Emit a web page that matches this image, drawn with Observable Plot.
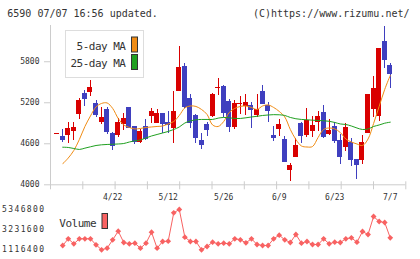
<!DOCTYPE html>
<html>
<head>
<meta charset="utf-8">
<script src="https://cdn.jsdelivr.net/npm/d3@7"></script>
<script src="https://cdn.jsdelivr.net/npm/@observablehq/plot@0.6"></script>
<style>
  html, body { margin: 0; padding: 0; background: #fff; }
  #chart { position: relative; width: 420px; height: 259px; overflow: hidden; }
  #chart svg { position: absolute; left: 0; }
</style>
</head>
<body>
<div id="chart"></div>
<script>
// Daily candles for code 6590, oldest first
const open = [4750, 4707, 4726, 4784, 5024, 5340, 5355, 5194, 4916, 5102,
  4755, 4721, 4882, 5136, 4853, 4623, 4853, 5004, 4901, 5039,
  4916, 4820, 5370, 5736, 5259, 5014, 4648, 4882, 5004, 5409,
  5439, 5219, 4843, 5171, 5150, 5160, 5014, 5365, 5160, 4721,
  4809, 4663, 4209, 4404, 4901, 4721, 4784, 4916, 5062, 4736,
  4853, 4648, 4550, 4623, 4366, 4356, 4755, 5106, 5004, 6097, 5746];
const high = [4750, 4805, 4916, 4916, 5259, 5380, 5526, 5234, 5136, 5136,
  4770, 4966, 5039, 5136, 4853, 4805, 4960, 5112, 5098, 5039,
  5077, 5370, 6024, 5771, 5321, 5029, 4755, 4916, 5340, 5560,
  5453, 5244, 5234, 5292, 5321, 5200, 5321, 5453, 5209, 4858,
  4951, 4707, 4316, 4673, 4916, 5112, 4999, 5077, 5160, 4951,
  4916, 4736, 4901, 4673, 4366, 4721, 5321, 5585, 5990, 6320, 5780];
const low = [4750, 4623, 4600, 4648, 4960, 5150, 5297, 4989, 4887, 4736,
  4502, 4688, 4795, 4820, 4590, 4609, 4648, 4893, 4893, 4755,
  4746, 4609, 5370, 5112, 4820, 4609, 4512, 4707, 4980, 5307,
  4989, 4770, 4809, 5024, 5014, 4820, 4980, 5185, 4916, 4634,
  4707, 4345, 4053, 4404, 4609, 4697, 4688, 4784, 4673, 4721,
  4609, 4297, 4487, 4272, 4078, 4297, 4746, 4989, 4931, 5706, 5409];
const close = [4750, 4663, 4820, 4839, 5234, 5259, 5428, 5029, 4989, 4784,
  4575, 4916, 4975, 4843, 4638, 4784, 4673, 5077, 5039, 4893,
  4885, 5077, 5721, 5150, 4916, 4697, 4590, 4814, 5321, 5420,
  5062, 4858, 5194, 5185, 5204, 5098, 5102, 5185, 5087, 4697,
  4882, 4345, 4282, 4575, 4721, 4941, 4868, 4999, 4707, 4795,
  4648, 4414, 4834, 4366, 4297, 4619, 5321, 5405, 5990, 5838, 5633];

// Moving averages (5-day and 25-day)
const ma5 = [null, 4307, 4392, 4502, 4663, 4853, 5007, 5139, 5190, 5197,
  5117, 4970, 4875, 4839, 4817, 4824, 4839, 4846, 4853, 4860,
  4890, 4926, 5014, 5124, 5153, 5146, 5102, 5029, 4875, 4853,
  4926, 5058, 5117, 5146, 5153, 5131, 5102, 5153, 5168, 5131,
  5073, 4992, 4809, 4663, 4568, 4553, 4560, 4692, 4809, 4831,
  4817, 4765, 4670, 4626, 4597, 4575, 4670, 4897, 5146, 5395, 5600];
const ma25 = [null, 4550, 4546, 4531, 4517, 4536, 4556, 4575, 4585, 4590,
  4593, 4597, 4604, 4626, 4644, 4656, 4685, 4714, 4736, 4758,
  4780, 4809, 4846, 4904, 4934, 4951, 4956, 4956, 4956, 4975,
  4985, 4980, 4970, 4970, 4980, 4992, 5002, 5014, 5021, 5026,
  5024, 5014, 4985, 4966, 4956, 4951, 4945, 4941, 4937, 4929,
  4912, 4890, 4882, 4860, 4831, 4809, 4817, 4853, 4875, 4901, 4916];

// Daily volume
const volume = [null, 1543000, 2257000, 1724000, 2257000, 2257000, 2257000, 1617000, 1084000, 1255000,
  2150000, 3066000, 1862000, 1724000, 1788000, 1255000, 1788000, 2960000, 1255000, 1969000,
  2001000, 5027000, 5379000, 2427000, 1969000, 1969000, 1084000, 1436000, 1894000, 1724000,
  1788000, 1724000, 2257000, 2150000, 1830000, 2257000, 1649000, 1543000, 1543000, 2257000,
  2640000, 2150000, 1862000, 2715000, 1788000, 1969000, 1649000, 1649000, 2257000, 1724000,
  1894000, 1862000, 2257000, 2363000, 1894000, 3034000, 2715000, 4633000, 4100000, 3993000, 2363000];

// Date labels and the candle each one sits under
const tickLabels = ["4/22", "5/12", "5/26", "6/9", "6/23", "7/7"];
const tickAt = [10, 20, 30, 40, 50, 60];
const priceTicks = [4000, 4600, 5200, 5800];
const volumeTicks = [1116400, 3231600, 5346800];

const UP = "#d90000", DOWN = "#3f3fbf";
const MA5_COLOR = "#f08c14", MA25_COLOR = "#20a020";
const VOL_COLOR = "#f86262";
const AXIS = "#cccccc";
const FONT = "'DejaVu Sans Mono', monospace";

const candles = open.map((o, i) => ({
  i, open: o, high: high[i], low: low[i], close: close[i],
  color: close[i] >= o ? UP : DOWN
}));
const ma5Data = ma5.map((v, i) => ({i, v})).filter(d => d.v != null);
const ma25Data = ma25.map((v, i) => ({i, v})).filter(d => d.v != null);
const volData = volume.map((v, i) => ({i, v})).filter(d => d.v != null);

const xDomain = [-1.2, 62.8];
const gridTicks = d3.range(12).map(k => xDomain[0] + k * (xDomain[1] - xDomain[0]) / 11);
const half = 0.45;

const price = Plot.plot({
  width: 420, height: 203,
  marginLeft: 50, marginRight: 14.7, marginTop: 25, marginBottom: 18.7,
  x: {domain: xDomain},
  y: {domain: [4000, 6330]},
  color: {type: "identity"},
  style: {fontFamily: FONT, fontSize: "8px", color: "#333", background: "transparent"},
  marks: [
    Plot.ruleY([4000], {stroke: AXIS}),
    Plot.ruleX([xDomain[0]], {stroke: AXIS}),
    Plot.axisX(gridTicks, {tickSize: 8, dy: -3, stroke: AXIS, tickFormat: () => "", label: null}),
    Plot.axisX(tickAt, {tickSize: 0, tickPadding: 10, tickFormat: i => tickLabels[tickAt.indexOf(i)], label: null}),
    Plot.axisY(priceTicks, {tickSize: 6, tickPadding: 5, stroke: AXIS, tickFormat: d => String(d), label: null}),
    Plot.ruleX(candles, {x: "i", y1: "low", y2: "high", stroke: "color", shapeRendering: "crispEdges"}),
    Plot.rect(candles, {x1: d => d.i - half, x2: d => d.i + half, y1: "open", y2: "close", fill: "color", shapeRendering: "crispEdges"}),
    Plot.ruleY(candles, {y: "close", x1: d => d.i - half, x2: d => d.i + half, stroke: "color", shapeRendering: "crispEdges"}),
    Plot.line(ma5Data, {x: "i", y: "v", stroke: MA5_COLOR, strokeWidth: 1, curve: "catmull-rom"}),
    Plot.line(ma25Data, {x: "i", y: "v", stroke: MA25_COLOR, strokeWidth: 1, curve: "catmull-rom"})
  ]
});
price.style.top = "0px";

const vol = Plot.plot({
  width: 420, height: 56,
  marginLeft: 50, marginRight: 14.7, marginTop: 6.3, marginBottom: 10,
  x: {domain: xDomain, axis: null},
  y: {domain: [volumeTicks[0], volumeTicks[2]]},
  style: {fontFamily: FONT, fontSize: "8px", color: "#333", background: "transparent", letterSpacing: "1.4px"},
  marks: [
    Plot.axisY(volumeTicks, {tickSize: 0, tickPadding: 5, tickFormat: d => String(d), label: null}),
    Plot.line(volData, {x: "i", y: "v", stroke: VOL_COLOR, strokeWidth: 1}),
    Plot.dot(volData, {x: "i", y: "v", symbol: "diamond2", r: 2.6, fill: VOL_COLOR, stroke: null})
  ]
});
vol.style.top = "203px";

const chart = document.getElementById("chart");
chart.appendChild(price);
chart.appendChild(vol);

// Header line and legends
const overlay = d3.create("svg")
  .attr("width", 420).attr("height", 259)
  .style("top", "0px")
  .style("font-family", FONT);

overlay.append("text").attr("x", 7.3).attr("y", 16.7)
  .attr("font-size", 10).attr("fill", "#333")
  .text("6590 07/07 16:56 updated.");
overlay.append("text").attr("x", 409.5).attr("y", 16.7)
  .attr("font-size", 10).attr("fill", "#333").attr("text-anchor", "end")
  .text("(C)https://www.rizumu.net/");

const legend = overlay.append("g");
legend.append("rect").attr("x", 65.5).attr("y", 30.5).attr("width", 78).attr("height", 47)
  .attr("fill", "#fff").attr("stroke", "#dddddd");
[["5-day MA", MA5_COLOR, 50, 37], ["25-day MA", MA25_COLOR, 67, 54.5]].forEach(([name, color, base, top]) => {
  legend.append("text").attr("x", 125.5).attr("y", base)
    .attr("font-size", 11).attr("letter-spacing", "-0.5px").attr("text-anchor", "end").attr("fill", "#333")
    .text(name);
  legend.append("rect").attr("x", 131.5).attr("y", top).attr("width", 6).attr("height", 15)
    .attr("fill", color).attr("stroke", "#333");
});

overlay.append("text").attr("x", 59.3).attr("y", 226.7)
  .attr("font-size", 11).attr("letter-spacing", "-0.5px").attr("fill", "#333")
  .text("Volume");
overlay.append("rect").attr("x", 102).attr("y", 213.5).attr("width", 5.5).attr("height", 15)
  .attr("fill", VOL_COLOR).attr("stroke", "#333");

chart.appendChild(overlay.node());
</script>
</body>
</html>
